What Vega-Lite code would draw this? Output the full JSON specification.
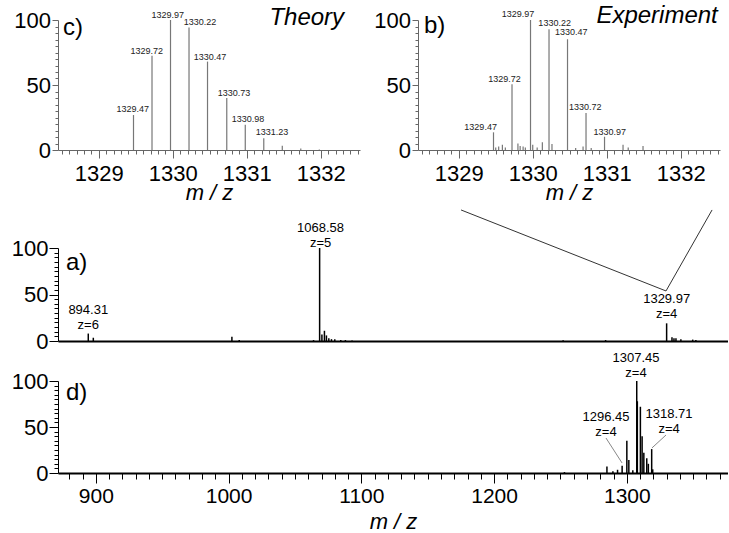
{
 "$schema": "https://vega.github.io/schema/vega-lite/v6.json",
 "background": "white",
 "padding": {"left": 5, "top": 3, "right": 0, "bottom": 0},
 "config": {
  "view": {"stroke": null},
  "font": "Liberation Sans",
  "text": {"font": "Liberation Sans"},
  "axis": {"grid": false, "labelFont": "Liberation Sans", "titleFont": "Liberation Sans", "labelColor": "black", "titleColor": "black", "titleFontWeight": "normal", "labelOverlap": false, "labelFlush": false, "labelBound": false}
 },
 "datasets": {
  "theory": [
   {"mz": 1329.47, "int": 26.9}, {"mz": 1329.72, "int": 72.5}, {"mz": 1329.97, "int": 100}, {"mz": 1330.22, "int": 94.3},
   {"mz": 1330.47, "int": 68}, {"mz": 1330.73, "int": 40}, {"mz": 1330.98, "int": 19.5}, {"mz": 1331.23, "int": 9},
   {"mz": 1331.48, "int": 3.3}, {"mz": 1331.73, "int": 1.2}, {"mz": 1331.98, "int": 0.4}
  ],
  "theory_labels": [
   {"lx": 1329.459, "ly": 31.8, "text": "1329.47"}, {"lx": 1329.65, "ly": 76.4, "text": "1329.72"},
   {"lx": 1329.932, "ly": 104, "text": "1329.97"}, {"lx": 1330.369, "ly": 98.7, "text": "1330.22"},
   {"lx": 1330.504, "ly": 71.8, "text": "1330.47"}, {"lx": 1330.828, "ly": 43.5, "text": "1330.73"},
   {"lx": 1331.018, "ly": 24.1, "text": "1330.98"}, {"lx": 1331.342, "ly": 14.1, "text": "1331.23"}
  ],
  "exp": [
   {"mz": 1329.47, "int": 13.6}, {"mz": 1329.50, "int": 2}, {"mz": 1329.54, "int": 2.6}, {"mz": 1329.59, "int": 4},
   {"mz": 1329.63, "int": 2}, {"mz": 1329.72, "int": 50.6}, {"mz": 1329.80, "int": 5}, {"mz": 1329.83, "int": 3},
   {"mz": 1329.87, "int": 2.6}, {"mz": 1329.90, "int": 2}, {"mz": 1329.97, "int": 100}, {"mz": 1330.00, "int": 4},
   {"mz": 1330.06, "int": 2}, {"mz": 1330.13, "int": 5.9}, {"mz": 1330.22, "int": 92.8}, {"mz": 1330.26, "int": 4.6},
   {"mz": 1330.47, "int": 85.2}, {"mz": 1330.58, "int": 1.5}, {"mz": 1330.68, "int": 2.6}, {"mz": 1330.72, "int": 28.4},
   {"mz": 1330.79, "int": 1.5}, {"mz": 1330.97, "int": 10.2}, {"mz": 1331.22, "int": 4}, {"mz": 1331.29, "int": 2},
   {"mz": 1331.49, "int": 3}
  ],
  "exp_labels": [
   {"lx": 1329.296, "ly": 17.4, "text": "1329.47"}, {"lx": 1329.62, "ly": 54.6, "text": "1329.72"},
   {"lx": 1329.80, "ly": 104.6, "text": "1329.97"}, {"lx": 1330.296, "ly": 97.4, "text": "1330.22"},
   {"lx": 1330.52, "ly": 90.5, "text": "1330.47"}, {"lx": 1330.71, "ly": 33.3, "text": "1330.72"},
   {"lx": 1331.04, "ly": 14.1, "text": "1330.97"}
  ],
  "survey": [
   {"mz": 894.31, "int": 8}, {"mz": 898.1, "int": 3.5}, {"mz": 1002.5, "int": 4.5}, {"mz": 1008, "int": 1},
   {"mz": 1064, "int": 1}, {"mz": 1068.58, "int": 100}, {"mz": 1070.3, "int": 7}, {"mz": 1072.2, "int": 11},
   {"mz": 1073.7, "int": 6}, {"mz": 1075.5, "int": 3}, {"mz": 1077.5, "int": 2}, {"mz": 1080, "int": 2},
   {"mz": 1084.5, "int": 1}, {"mz": 1088, "int": 1}, {"mz": 1093, "int": 0.6}, {"mz": 1252, "int": 0.8},
   {"mz": 1284, "int": 1}, {"mz": 1329.97, "int": 19}, {"mz": 1334, "int": 4}, {"mz": 1335.5, "int": 3},
   {"mz": 1337, "int": 3}, {"mz": 1340.7, "int": 2}, {"mz": 1349.6, "int": 1.5}, {"mz": 1352, "int": 1}
  ],
  "survey_labels": [
   {"lx": 894.3, "ly": 33.8, "text": "894.31\nz=6"},
   {"lx": 1069.3, "ly": 122, "text": "1068.58\nz=5"},
   {"lx": 1330.0, "ly": 45.2, "text": "1329.97\nz=4"}
  ],
  "zoomlines": [
   {"mz": 1175.1, "int": 140.9}, {"mz": 1329.5, "int": 53.8}, {"mz": 1364.2, "int": 140.9}
  ],
  "digest": [
   {"mz": 1253, "int": 1}, {"mz": 1285, "int": 7}, {"mz": 1289.5, "int": 2}, {"mz": 1293, "int": 3.5},
   {"mz": 1296.45, "int": 8}, {"mz": 1300, "int": 35}, {"mz": 1301.5, "int": 14}, {"mz": 1304.5, "int": 3},
   {"mz": 1307.45, "int": 100}, {"mz": 1307.9, "int": 78}, {"mz": 1310.2, "int": 72}, {"mz": 1311.5, "int": 40},
   {"mz": 1312.8, "int": 22}, {"mz": 1315, "int": 16}, {"mz": 1316.2, "int": 10}, {"mz": 1318.71, "int": 26},
   {"mz": 1319.5, "int": 4}
  ],
  "digest_labels": [
   {"lx": 1306.9, "ly": 125, "text": "1307.45\nz=4"},
   {"lx": 1284.3, "ly": 60.9, "text": "1296.45\nz=4"},
   {"lx": 1331.8, "ly": 64.1, "text": "1318.71\nz=4"}
  ],
  "leaders": [
   {"x1": 1284.3, "y1": 38, "x2": 1296.4, "y2": 10.9},
   {"x1": 1329.5, "y1": 41.3, "x2": 1318.9, "y2": 27.2}
  ]
 },
 "spacing": 4,
 "vconcat": [
  {
   "hconcat": [
    {
     "width": 302, "height": 130,
     "resolve": {"axis": {"x": "independent", "y": "independent"}},
     "layer": [
      {
       "data": {"name": "theory"},
       "mark": {"type": "rule", "color": "#777777", "strokeWidth": 1.2},
       "encoding": {
        "x": {"field": "mz", "type": "quantitative", "scale": {"domain": [1328.45, 1332.53], "nice": false, "zero": false},
         "axis": {"orient": "bottom", "values": [1329, 1330, 1331, 1332], "format": "d", "tickSize": 8,
          "labelFontSize": 22, "labelPadding": 5, "title": "m / z", "titleFontStyle": "italic", "titleFontSize": 22, "titlePadding": -2,
          "domainColor": "#666666", "tickColor": "#666666", "labelOverlap": false}},
        "y": {"field": "int", "type": "quantitative", "scale": {"domain": [0, 100], "nice": false},
         "axis": {"orient": "left", "values": [0, 50, 100], "format": "d", "tickSize": 6,
          "labelFontSize": 22, "labelPadding": 1.5, "domainColor": "#666666", "tickColor": "#666666", "labelOverlap": false,
          "title": "|", "titleOpacity": 0, "titleFontSize": 8, "titlePadding": 0}},
        "y2": {"datum": 0}
       }
      },
      {
       "data": {"name": "theory_labels"},
       "mark": {"type": "text", "fontSize": 9, "color": "#222222", "baseline": "middle"},
       "encoding": {
        "x": {"field": "lx", "type": "quantitative",
         "axis": {"orient": "bottom", "values": [1328.5,1328.6,1328.7,1328.8,1328.9,1329.1,1329.2,1329.3,1329.4,1329.5,1329.6,1329.7,1329.8,1329.9,1330.1,1330.2,1330.3,1330.4,1330.5,1330.6,1330.7,1330.8,1330.9,1331.1,1331.2,1331.3,1331.4,1331.5,1331.6,1331.7,1331.8,1331.9,1332.1,1332.2,1332.3,1332.4,1332.5],
          "labels": false, "domain": false, "tickSize": 4, "tickColor": "#666666", "title": null}},
        "y": {"field": "ly", "type": "quantitative",
         "axis": {"orient": "left", "values": [5,10,15,20,25,30,35,40,45,55,60,65,70,75,80,85,90,95],
          "labels": false, "domain": false, "tickSize": 3, "tickColor": "#666666", "title": null}},
        "text": {"field": "text", "type": "nominal"}}
      },
      {
       "data": {"values": [{}]},
       "mark": {"type": "text", "text": "c)", "fontSize": 24, "align": "left", "baseline": "middle", "color": "black"},
       "encoding": {"x": {"datum": 1328.518, "type": "quantitative", "axis": null}, "y": {"datum": 94, "type": "quantitative", "axis": null}}
      },
      {
       "data": {"values": [{}]},
       "mark": {"type": "text", "text": "Theory", "fontSize": 24, "fontStyle": "italic", "align": "right", "baseline": "middle", "color": "black"},
       "encoding": {"x": {"datum": 1332.315, "type": "quantitative", "axis": null}, "y": {"datum": 101.8, "type": "quantitative", "axis": null}}
      }
     ]
    },
    {
     "width": 302, "height": 130,
     "resolve": {"axis": {"x": "independent", "y": "independent"}},
     "layer": [
      {
       "data": {"name": "exp"},
       "mark": {"type": "rule", "color": "#777777", "strokeWidth": 1.2},
       "encoding": {
        "x": {"field": "mz", "type": "quantitative", "scale": {"domain": [1328.45, 1332.53], "nice": false, "zero": false},
         "axis": {"orient": "bottom", "values": [1329, 1330, 1331, 1332], "format": "d", "tickSize": 8,
          "labelFontSize": 22, "labelPadding": 5, "title": "m / z", "titleFontStyle": "italic", "titleFontSize": 22, "titlePadding": -2,
          "domainColor": "#666666", "tickColor": "#666666", "labelOverlap": false}},
        "y": {"field": "int", "type": "quantitative", "scale": {"domain": [0, 100], "nice": false},
         "axis": {"orient": "left", "values": [0, 50, 100], "format": "d", "tickSize": 6,
          "labelFontSize": 22, "labelPadding": 1.5, "domainColor": "#666666", "tickColor": "#666666", "labelOverlap": false, "title": null}},
        "y2": {"datum": 0}
       }
      },
      {
       "data": {"name": "exp_labels"},
       "mark": {"type": "text", "fontSize": 9, "color": "#222222", "baseline": "middle"},
       "encoding": {
        "x": {"field": "lx", "type": "quantitative",
         "axis": {"orient": "bottom", "values": [1328.5,1328.6,1328.7,1328.8,1328.9,1329.1,1329.2,1329.3,1329.4,1329.5,1329.6,1329.7,1329.8,1329.9,1330.1,1330.2,1330.3,1330.4,1330.5,1330.6,1330.7,1330.8,1330.9,1331.1,1331.2,1331.3,1331.4,1331.5,1331.6,1331.7,1331.8,1331.9,1332.1,1332.2,1332.3,1332.4,1332.5],
          "labels": false, "domain": false, "tickSize": 4, "tickColor": "#666666", "title": null}},
        "y": {"field": "ly", "type": "quantitative",
         "axis": {"orient": "left", "values": [5,10,15,20,25,30,35,40,45,55,60,65,70,75,80,85,90,95],
          "labels": false, "domain": false, "tickSize": 3, "tickColor": "#666666", "title": null}},
        "text": {"field": "text", "type": "nominal"}}
      },
      {
       "data": {"values": [{}]},
       "mark": {"type": "text", "text": "b)", "fontSize": 24, "align": "left", "baseline": "middle", "color": "black"},
       "encoding": {"x": {"datum": 1328.53, "type": "quantitative", "axis": null}, "y": {"datum": 95.6, "type": "quantitative", "axis": null}}
      },
      {
       "data": {"values": [{}]},
       "mark": {"type": "text", "text": "Experiment", "fontSize": 24, "fontStyle": "italic", "align": "right", "baseline": "middle", "color": "black"},
       "encoding": {"x": {"datum": 1332.50, "type": "quantitative", "axis": null}, "y": {"datum": 103.3, "type": "quantitative", "axis": null}}
      }
     ]
    }
   ],
   "spacing": 58,
   "bounds": "flush"
  },
  {
   "vconcat": [
    {
     "width": 670, "height": 93,
     "resolve": {"axis": {"x": "independent", "y": "independent"}},
     "layer": [
      {
       "data": {"name": "survey"},
       "mark": {"type": "rule", "color": "black", "strokeWidth": 1.5},
       "encoding": {
        "x": {"field": "mz", "type": "quantitative", "scale": {"domain": [871.5, 1376.2], "nice": false, "zero": false},
         "axis": {"orient": "bottom", "domainColor": "black", "domainWidth": 2, "ticks": false, "labels": false, "title": null}},
        "y": {"field": "int", "type": "quantitative", "scale": {"domain": [0, 100], "nice": false},
         "axis": {"orient": "left", "values": [0, 50, 100], "format": "d", "tickSize": 9,
          "labelFontSize": 22, "labelPadding": 1, "domainColor": "black", "tickColor": "black", "labelOverlap": false, "title": null}},
        "y2": {"datum": 0}
       }
      },
      {
       "data": {"name": "survey_labels"},
       "mark": {"type": "text", "fontSize": 13, "lineBreak": "\n", "lineHeight": 15, "baseline": "middle", "color": "black"},
       "encoding": {
        "x": {"field": "lx", "type": "quantitative", "axis": null},
        "y": {"field": "ly", "type": "quantitative",
         "axis": {"orient": "left", "values": [5,10,15,20,25,30,35,40,45,55,60,65,70,75,80,85,90,95],
          "labels": false, "domain": false, "tickSize": 4, "tickColor": "black", "title": null}},
        "text": {"field": "text", "type": "nominal"}}
      },
      {
       "data": {"name": "zoomlines"},
       "mark": {"type": "line", "color": "#333333", "strokeWidth": 1},
       "encoding": {"x": {"field": "mz", "type": "quantitative", "axis": null}, "y": {"field": "int", "type": "quantitative", "axis": null}}
      },
      {
       "data": {"values": [{}]},
       "mark": {"type": "text", "text": "a)", "fontSize": 24, "align": "left", "baseline": "middle", "color": "black"},
       "encoding": {"x": {"datum": 877.5, "type": "quantitative", "axis": null}, "y": {"datum": 84.2, "type": "quantitative", "axis": null}}
      }
     ]
    },
    {
     "width": 670, "height": 92,
     "resolve": {"axis": {"x": "independent", "y": "independent"}},
     "layer": [
      {
       "data": {"name": "digest"},
       "mark": {"type": "rule", "color": "black", "strokeWidth": 1.5},
       "encoding": {
        "x": {"field": "mz", "type": "quantitative", "scale": {"domain": [871.5, 1376.2], "nice": false, "zero": false},
         "axis": {"orient": "bottom", "values": [900, 1000, 1100, 1200, 1300], "format": "d", "tickSize": 10,
          "labelFontSize": 21, "labelPadding": 2, "title": "m / z", "titleFontStyle": "italic", "titleFontSize": 22, "titlePadding": 5,
          "domainColor": "black", "domainWidth": 2, "tickColor": "black", "labelOverlap": false}},
        "y": {"field": "int", "type": "quantitative", "scale": {"domain": [0, 100], "nice": false},
         "axis": {"orient": "left", "values": [0, 50, 100], "format": "d", "tickSize": 9,
          "labelFontSize": 22, "labelPadding": 1, "domainColor": "black", "tickColor": "black", "labelOverlap": false, "title": null}},
        "y2": {"datum": 0}
       }
      },
      {
       "data": {"name": "digest_labels"},
       "mark": {"type": "text", "fontSize": 13, "lineBreak": "\n", "lineHeight": 15, "baseline": "middle", "color": "black"},
       "encoding": {
        "x": {"field": "lx", "type": "quantitative",
         "axis": {"orient": "bottom", "values": [880,890,910,920,930,940,950,960,970,980,990,1010,1020,1030,1040,1050,1060,1070,1080,1090,1110,1120,1130,1140,1150,1160,1170,1180,1190,1210,1220,1230,1240,1250,1260,1270,1280,1290,1310,1320,1330,1340,1350,1360,1370],
          "labels": false, "domain": false, "tickSize": 6, "tickColor": "black", "title": null}},
        "y": {"field": "ly", "type": "quantitative",
         "axis": {"orient": "left", "values": [5,10,15,20,25,30,35,40,45,55,60,65,70,75,80,85,90,95],
          "labels": false, "domain": false, "tickSize": 4, "tickColor": "black", "title": null}},
        "text": {"field": "text", "type": "nominal"}}
      },
      {
       "data": {"name": "leaders"},
       "mark": {"type": "rule", "color": "#888888", "strokeWidth": 1},
       "encoding": {"x": {"field": "x1", "type": "quantitative", "axis": null}, "y": {"field": "y1", "type": "quantitative", "axis": null}, "x2": {"field": "x2"}, "y2": {"field": "y2"}}
      },
      {
       "data": {"values": [{}]},
       "mark": {"type": "text", "text": "d)", "fontSize": 24, "align": "left", "baseline": "middle", "color": "black"},
       "encoding": {"x": {"datum": 877.5, "type": "quantitative", "axis": null}, "y": {"datum": 87.3, "type": "quantitative", "axis": null}}
      }
     ]
    }
   ],
   "spacing": 40,
   "bounds": "flush"
  }
 ]
}
